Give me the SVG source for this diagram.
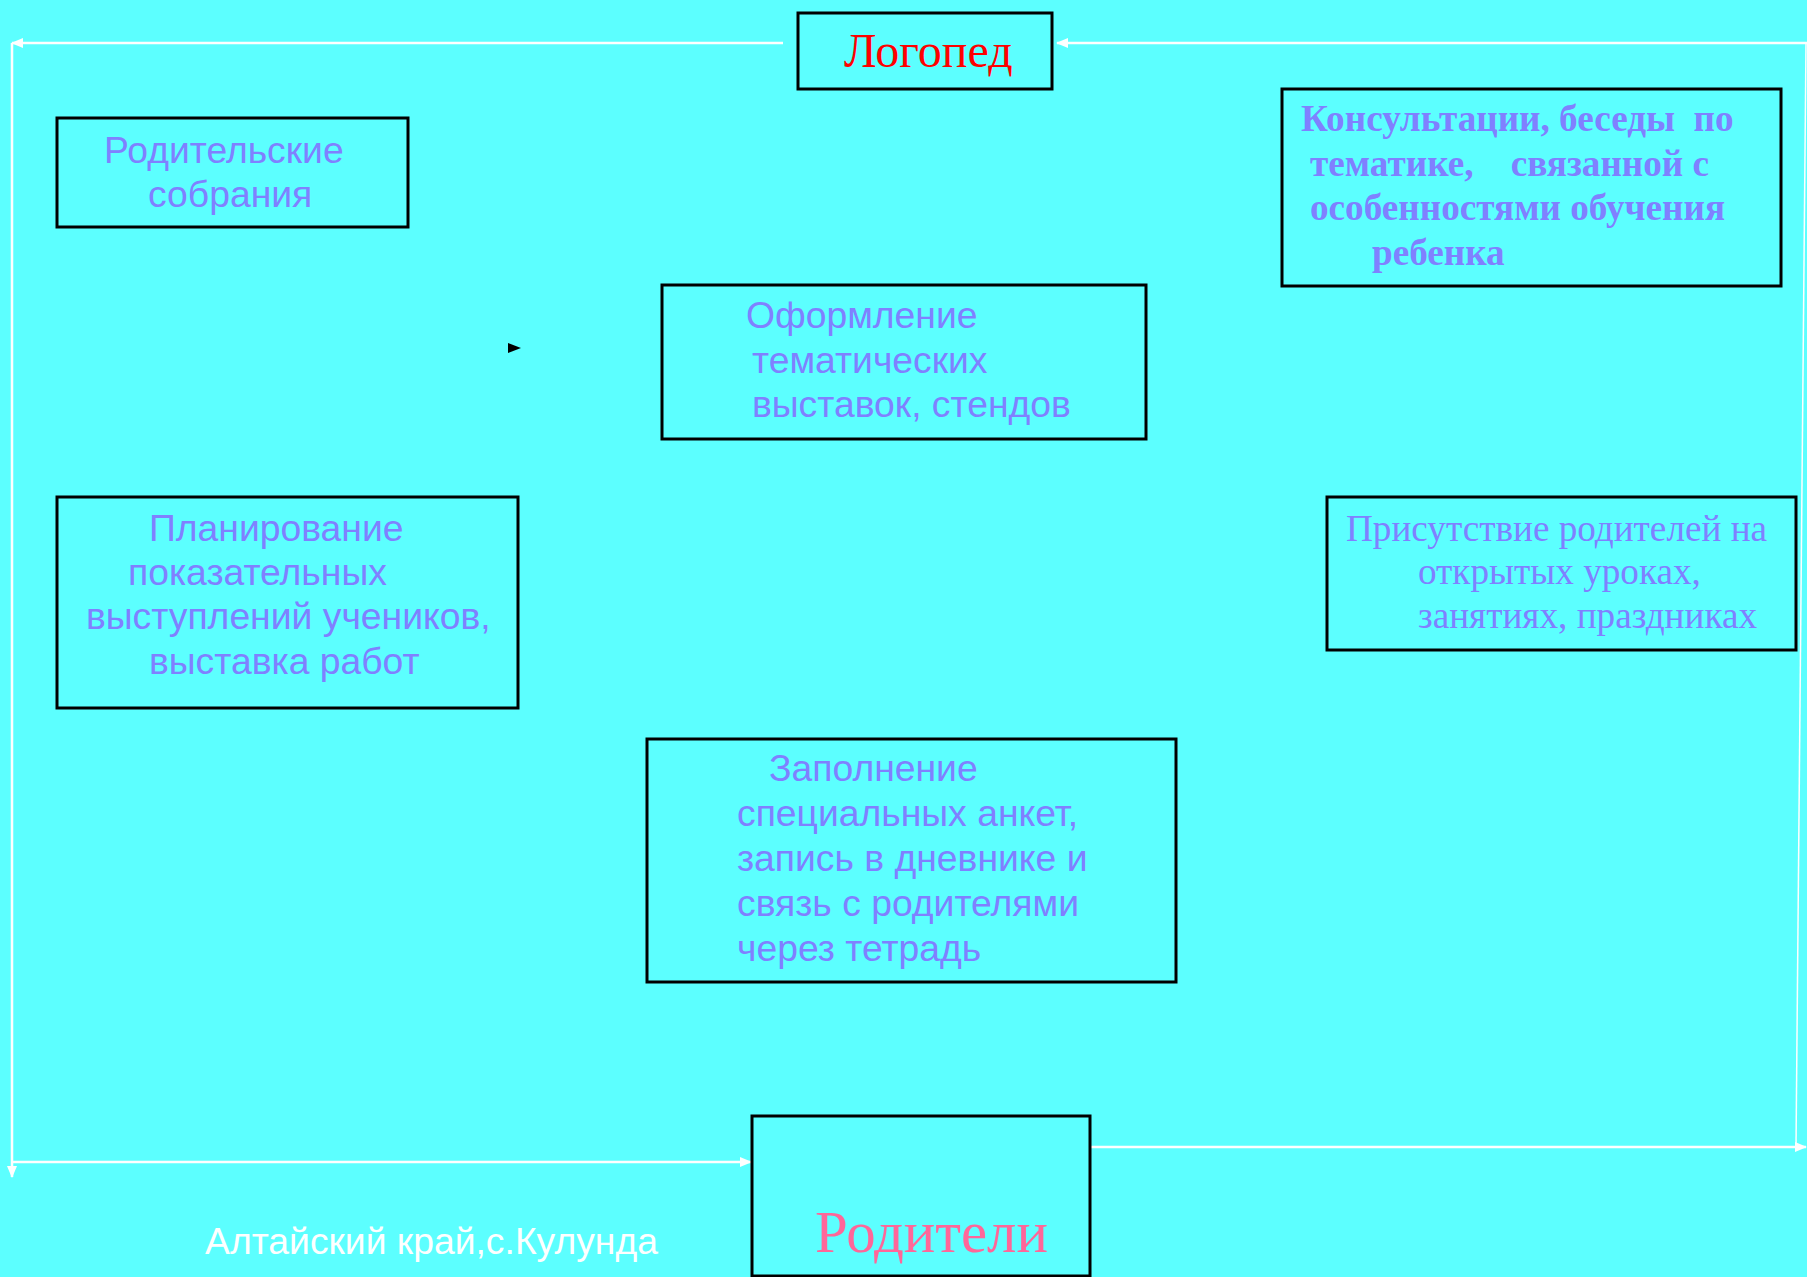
<svg xmlns="http://www.w3.org/2000/svg" width="1807" height="1277" viewBox="0 0 1807 1277">
<defs>
<style>
.box{fill:#5CFFFF;stroke:#000;stroke-width:3}
.sans{font-family:"Liberation Sans",Arial,sans-serif;font-size:37.3px;fill:#8080FF}
.serif{font-family:"Liberation Serif","Times New Roman",serif;font-size:37.2px;fill:#8080FF}
.bold{font-weight:bold}
.wire{stroke:#fff;stroke-width:2.5;fill:none}
</style>
<marker id="ah" viewBox="0 0 12 10" refX="11" refY="5" markerWidth="12" markerHeight="10" markerUnits="userSpaceOnUse" orient="auto">
<path d="M0,0 L12,5 L0,10 Z" fill="#fff"/>
</marker>
</defs>
<rect width="1807" height="1277" fill="#5CFFFF"/>
<g id="connectors">
<line class="wire" x1="783" y1="43" x2="12" y2="43" marker-end="url(#ah)"/>
<line class="wire" x1="1807" y1="43" x2="1057" y2="43" marker-end="url(#ah)"/>
<line class="wire" x1="12" y1="43" x2="12" y2="1177" marker-end="url(#ah)"/>
<line class="wire" x1="12" y1="1162" x2="751" y2="1162" marker-end="url(#ah)"/>
<line class="wire" x1="1088" y1="1147" x2="1806" y2="1147" marker-end="url(#ah)"/>
<line class="wire" style="stroke-width:1.5" x1="1806" y1="43" x2="1796" y2="1147"/>
<path d="M508,343 L521,348 L508,353 Z" fill="#000"/>
</g>
<g id="logoped">
<rect class="box" x="798" y="13" width="254" height="76"/>
<text x="844" y="67" style="font-family:'Liberation Serif','Times New Roman',serif;font-size:48px;fill:#FF0000">Логопед</text>
</g>
<g id="roditelskie">
<rect class="box" x="57" y="118" width="351" height="109"/>
<text class="sans" x="104" y="163">Родительские</text>
<text class="sans" x="148" y="207">собрания</text>
</g>
<g id="konsultacii">
<rect class="box" x="1282" y="89" width="499" height="197"/>
<text class="serif bold" xml:space="preserve" x="1301" y="131">Консультации, беседы  по</text>
<text class="serif bold" xml:space="preserve" x="1310" y="176">тематике,    связанной с</text>
<text class="serif bold" x="1310" y="220">особенностями обучения</text>
<text class="serif bold" x="1372" y="265">ребенка</text>
</g>
<g id="oformlenie">
<rect class="box" x="662" y="285" width="484" height="154"/>
<text class="sans" x="746" y="328">Оформление</text>
<text class="sans" x="752" y="373">тематических</text>
<text class="sans" x="752" y="417">выставок, стендов</text>
</g>
<g id="planirovanie">
<rect class="box" x="57" y="497" width="461" height="211"/>
<text class="sans" x="149" y="541">Планирование</text>
<text class="sans" x="128" y="585">показательных</text>
<text class="sans" x="86" y="629">выступлений учеников,</text>
<text class="sans" x="149" y="674">выставка работ</text>
</g>
<g id="prisutstvie">
<rect class="box" x="1327" y="497" width="469" height="153"/>
<text class="serif" x="1346" y="541">Присутствие родителей на</text>
<text class="serif" x="1418" y="584">открытых уроках,</text>
<text class="serif" x="1418" y="628">занятиях, праздниках</text>
</g>
<g id="zapolnenie">
<rect class="box" x="647" y="739" width="529" height="243"/>
<text class="sans" x="769" y="781">Заполнение</text>
<text class="sans" x="737" y="826">специальных анкет,</text>
<text class="sans" x="737" y="871">запись в дневнике и</text>
<text class="sans" x="737" y="916">связь с родителями</text>
<text class="sans" x="737" y="961">через тетрадь</text>
</g>
<g id="roditeli">
<rect class="box" x="752" y="1116" width="338" height="160"/>
<text x="815" y="1252" style="font-family:'Liberation Serif','Times New Roman',serif;font-size:58.8px;fill:#FF6699">Родители</text>
</g>
<g id="footer">
<text x="205" y="1254" style="font-family:'Liberation Sans',Arial,sans-serif;font-size:37.3px;fill:#FFFFFF">Алтайский край,с.Кулунда</text>
</g>
</svg>
